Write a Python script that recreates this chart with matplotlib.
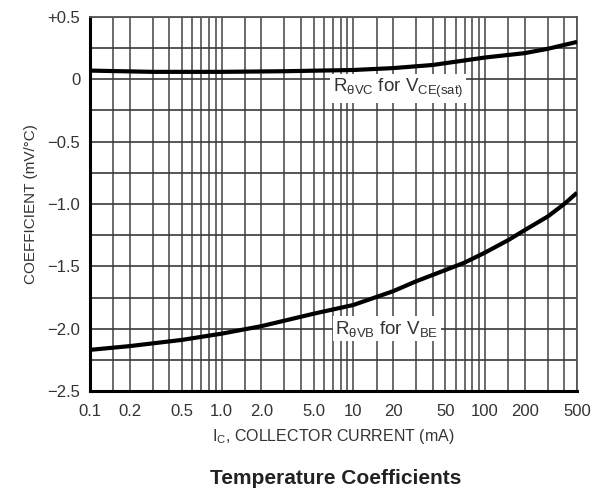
import numpy as np
import matplotlib
matplotlib.use('Agg')
import matplotlib.pyplot as plt
from matplotlib.ticker import FixedLocator, NullFormatter

# Data
ic_vce = [0.1, 0.3, 1.0, 3.0, 10, 20, 40, 100, 200, 300, 500]
coef_vce = [0.07, 0.06, 0.06, 0.065, 0.075, 0.09, 0.115, 0.175, 0.21, 0.245, 0.30]
ic_vbe = [0.1, 0.2, 0.5, 1.0, 2.0, 5.0, 10, 20, 30, 50, 70, 100, 150, 200, 300, 400, 500]
coef_vbe = [-2.17, -2.14, -2.09, -2.04, -1.98, -1.88, -1.81, -1.70, -1.62, -1.53, -1.47,
            -1.39, -1.29, -1.21, -1.10, -1.00, -0.91]

x_ticks = [0.1, 0.2, 0.5, 1.0, 2.0, 5.0, 10, 20, 50, 100, 200, 500]
x_labels = ['0.1', '0.2', '0.5', '1.0', '2.0', '5.0', '10', '20', '50', '100', '200', '500']
y_ticks = [0.5, 0, -0.5, -1.0, -1.5, -2.0, -2.5]
y_labels = ['+0.5', '0', '\u22120.5', '\u22121.0', '\u22121.5', '\u22122.0', '\u22122.5']

plt.rcParams['font.family'] = ['Liberation Sans', 'DejaVu Sans']
plt.rcParams['mathtext.fontset'] = 'custom'
plt.rcParams['mathtext.rm'] = 'Liberation Sans'
plt.rcParams['mathtext.it'] = 'Liberation Sans'

fig = plt.figure(figsize=(5.99, 4.94), dpi=100)
ax = fig.add_axes([90 / 599, 1 - 391 / 494, 487 / 599, 374 / 494])

ax.set_xscale('log')
ax.set_xlim(0.1, 500)
ax.set_ylim(-2.5, 0.5)

# grid: decades plus 1.5,2..9 subdivisions
minor = [d * s for d in [0.1, 1, 10, 100] for s in [1.5, 2, 3, 4, 5, 6, 7, 8, 9]]
minor = [m for m in minor if m < 500]
ax.xaxis.set_minor_locator(FixedLocator(minor))
ax.xaxis.set_minor_formatter(NullFormatter())
ax.set_xticks(x_ticks)
ax.set_xticklabels(x_labels)
ax.set_yticks(y_ticks)
ax.set_yticklabels(y_labels)
ax.yaxis.set_minor_locator(FixedLocator(np.arange(-2.5, 0.51, 0.25)))

ax.grid(True, which='both', axis='x', color='#6a6a6a', lw=1.4)
ax.grid(True, which='both', axis='y', color='#3a3a3a', lw=1.2)
ax.set_axisbelow(True)
ax.tick_params(which='both', length=0, labelsize=12, colors='#333333')
ax.tick_params(axis='x', pad=9)
ax.tick_params(axis='y', pad=7)

for side in ['left', 'bottom']:
    ax.spines[side].set_linewidth(2.2)
    ax.spines[side].set_color('black')
for side in ['top', 'right']:
    ax.spines[side].set_linewidth(1.3)
    ax.spines[side].set_color('#555555')

ax.plot(ic_vce, coef_vce, color='black', lw=3, solid_capstyle='butt', zorder=5)
ax.plot(ic_vbe, coef_vbe, color='black', lw=3, solid_capstyle='butt', zorder=5)

box = dict(facecolor='white', edgecolor='none', pad=2)
ax.text(22, -0.075, r'R$_{\theta VC}$ for V$_{CE(sat)}$', fontsize=13.5, color='#333333',
        ha='center', va='center', bbox=box, zorder=4)
ax.text(18, -2.0, r'R$_{\theta VB}$ for V$_{BE}$', fontsize=13.5, color='#333333',
        ha='center', va='center', bbox=box, zorder=4)

ax.set_ylabel('COEFFICIENT (mV/\u00b0C)', fontsize=11, color='#333333', labelpad=7)
ax.set_xlabel(r'I$_{C}$, COLLECTOR CURRENT (mA)', fontsize=11.5, color='#333333', labelpad=6)
fig.text(336 / 599, 1 - 478 / 494, 'Temperature Coefficients', fontsize=15, fontweight='bold',
         ha='center', va='center', color='#222222')

fig.savefig('out.png', dpi=100)
